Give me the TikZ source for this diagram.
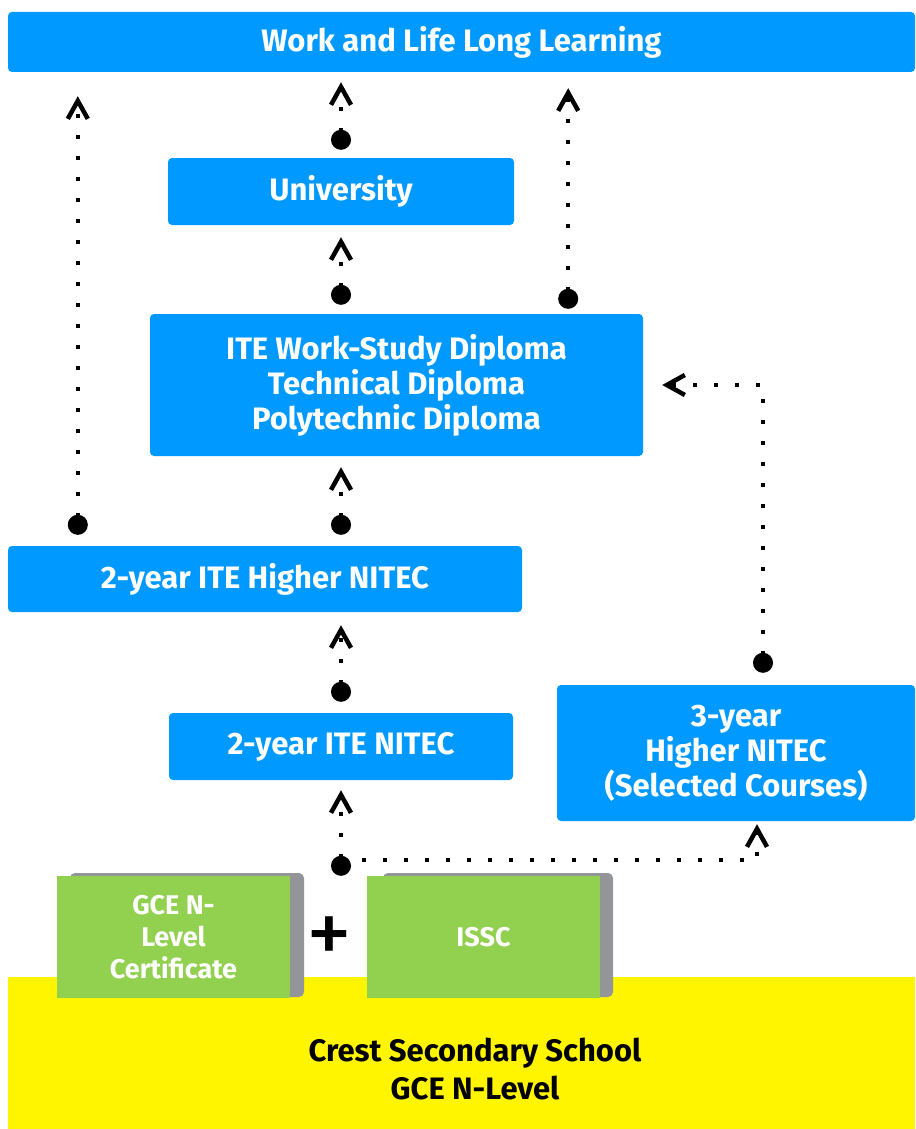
\documentclass[tikz,border=0pt]{standalone}
\usepackage{fontspec}
\setmainfont{Fira Sans}
\usetikzlibrary{arrows.meta}

\definecolor{pathBlue}{HTML}{0099FF}
\definecolor{certGreen}{HTML}{92D050}
\definecolor{shadeGray}{HTML}{939598}
\definecolor{schoolYellow}{HTML}{FFF500}

\tikzstyle{bS}=[fill=pathBlue, rounded corners=4pt, text=white, inner sep=0pt, font=\bfseries\fontsize{31}{35}\selectfont, align=center]
\tikzstyle{gS}=[fill=certGreen, text=white, inner sep=0pt, font=\bfseries\fontsize{27}{32}\selectfont, align=center]
\tikzstyle{shS}=[fill=shadeGray, rounded corners=5pt]
\tikzstyle{yS}=[fill=schoolYellow, inner sep=0pt]
\tikzstyle{tS}=[inner sep=0pt, font=\bfseries\fontsize{31}{38}\selectfont, align=center]
\tikzstyle{eD}=[line width=4pt, dash pattern=on 4pt off 17pt, {Circle[length=20pt]}-{Straight Barb[length=18pt,width=20pt,line width=4.5pt]}]
\tikzstyle{eDn}=[line width=4pt, dash pattern=on 4pt off 17pt, -{Straight Barb[length=18pt,width=20pt,line width=4.5pt]}]

\begin{document}
\begin{tikzpicture}[x=1pt,y=-1pt]
                \useasboundingbox (0,0) rectangle (915,1129);
                % school and certificates
                \draw (461.5,1053) node[yS, minimum width=907, minimum height=152] (school) {};
                \draw (475,1069) node[tS] (crest) {Crest Secondary School\\GCE N-Level};
                \fill[shS] (70,873) rectangle (304,997);
                \fill[shS] (383,873) rectangle (613,997);
                \draw (173.5,937) node[gS, minimum width=233, minimum height=122] (gce) {GCE N-\\Level\\Certificate};
                \draw (483.5,937) node[gS, minimum width=233, minimum height=122] (issc) {ISSC};
                \draw (329,941) node[inner sep=0pt, font=\fontsize{92}{92}\selectfont] (plus) {+};
                % pathways
                \draw (461.5,42) node[bS, minimum width=907, minimum height=60] (top) {Work and Life Long Learning};
                \draw (341,191.5) node[bS, minimum width=346, minimum height=67] (uni) {University};
                \draw (396.5,385) node[bS, minimum width=493, minimum height=142] (dip) {ITE Work-Study Diploma\\Technical Diploma\\Polytechnic Diploma};
                \draw (265,579) node[bS, minimum width=514, minimum height=66] (hnit) {2-year ITE Higher NITEC};
                \draw (341,746.5) node[bS, minimum width=344, minimum height=67] (nit) {2-year ITE NITEC};
                \draw (736,753) node[bS, minimum width=358, minimum height=136] (hn3) {3-year\\Higher NITEC\\(Selected Courses)};
                % connector ends
                \coordinate (cL) at ([xshift=70pt]hnit.north west);
                \coordinate (cD) at ([xshift=-75pt]dip.north east);
                \coordinate (src) at (nit.south |- gce.north);
                \coordinate (cS) at ([xshift=21pt]hn3.south);
                \coordinate (cU) at ([xshift=27pt]hn3.north);
                \path
                    (cL) edge[eD, shorten <=11pt, shorten >=24pt] (cL |- top.south)
                    (uni.north) edge[eD, shorten <=8pt, shorten >=10pt] (uni.north |- top.south)
                    (cD) edge[eD, shorten <=5pt, shorten >=16pt] (cD |- top.south)
                    (dip.north -| uni.south) edge[eD, shorten <=9pt, shorten >=12pt] (uni.south)
                    (hnit.north -| uni.south) edge[eD, shorten <=11pt, shorten >=11pt] (uni.south |- dip.south)
                    (nit.north) edge[eD, shorten <=11pt, shorten >=13pt] (nit.north |- hnit.south)
                    (src) edge[eD, shorten >=10pt] (nit.south)
                ;
                \draw[eDn, shorten >=3pt] ([yshift=16pt]src) -| (cS);
                \draw[eD, shorten <=12pt, shorten >=19pt] (cU) |- (dip.east);
        \end{tikzpicture}
\end{document}
